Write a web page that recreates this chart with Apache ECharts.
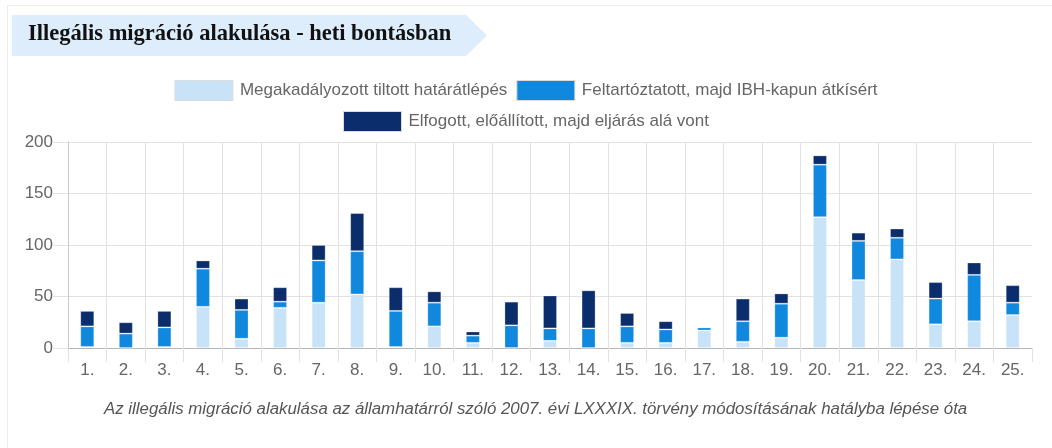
<!DOCTYPE html>
<html>
<head>
<meta charset="utf-8">
<script src="https://cdn.jsdelivr.net/npm/echarts@6/dist/echarts.min.js"></script>
<style>
  html, body { margin: 0; padding: 0; background: #fff; }
  #chart { width: 1052px; height: 448px; }
</style>
</head>
<body>
<div id="chart"></div>
<script>
  // weekly categories
  const weeks = ['1.', '2.', '3.', '4.', '5.', '6.', '7.', '8.', '9.', '10.', '11.', '12.', '13.',
    '14.', '15.', '16.', '17.', '18.', '19.', '20.', '21.', '22.', '23.', '24.', '25.'];

  const seriesNames = [
    'Megakadályozott tiltott határátlépés',
    'Feltartóztatott, majd IBH-kapun átkísért',
    'Elfogott, előállított, majd eljárás alá vont'
  ];

  // values
  const prevented = [1, 0, 1, 40, 9, 39, 44, 52, 1, 21, 5, 0, 7, 0, 5, 5, 17, 6, 10, 127, 66, 86, 23, 26, 32];
  const escorted  = [20, 14, 19, 37, 28, 6, 41, 42, 35, 23, 7, 22, 12, 19, 16, 13, 3, 20, 33, 51, 38, 21, 25, 45, 12];
  const arrested  = [15, 11, 16, 8, 11, 14, 15, 37, 23, 11, 4, 23, 32, 37, 13, 8, 1, 22, 10, 9, 8, 9, 16, 12, 17];

  const yTicks = [0, 50, 100, 150, 200];

  const colors = ['#c8e2f8', '#0f88de', '#0c2d6b'];

  const chartDom = document.getElementById('chart');
  const myChart = echarts.init(chartDom, null, { renderer: 'canvas' });

  const legendText = { color: '#666', fontSize: 17, fontFamily: 'Liberation Sans, Arial, sans-serif', padding: [0, 0, 0, 2] };
  const legendItem = { borderColor: '#dcdcdc', borderWidth: 1 };

  function makeSeries(i, values) {
    return {
      name: seriesNames[i],
      type: 'bar',
      stack: 'total',
      barWidth: 14,
      data: values,
      itemStyle: { color: colors[i], borderColor: 'rgba(255,255,255,0.25)', borderWidth: 1 },
      emphasis: { disabled: true }
    };
  }

  const option = {
    animation: false,
    color: colors,
    textStyle: { fontFamily: 'Liberation Sans, Arial, sans-serif' },
    graphic: [
      // card border
      {
        type: 'rect',
        shape: { x: 7.5, y: 5.5, width: 1060, height: 460 },
        style: { fill: 'none', stroke: '#ececec', lineWidth: 1 },
        silent: true
      },
      // title banner with arrow
      {
        type: 'polygon',
        shape: { points: [[12, 15], [466, 15], [487, 35.5], [466, 56], [12, 56]] },
        style: { fill: '#deedfb' },
        silent: true
      },
      {
        type: 'text',
        left: 28,
        top: 23,
        style: {
          text: 'Illegális migráció alakulása - heti bontásban',
          font: 'bold 22.5px "Liberation Serif", "Times New Roman", serif',
          fill: '#111'
        },
        silent: true
      },
      // footnote
      {
        type: 'text',
        left: 104,
        top: 401,
        style: {
          text: 'Az illegális migráció alakulása az államhatárról szóló 2007. évi LXXXIX. törvény módosításának hatályba lépése óta',
          font: 'italic 16.85px "Liberation Sans", Arial, sans-serif',
          fill: '#555'
        },
        silent: true
      }
    ],
    legend: [
      {
        data: [seriesNames[0], seriesNames[1]],
        top: 75,
        left: 'center',
        itemWidth: 58,
        itemHeight: 20,
        itemGap: 9,
        icon: 'rect',
        itemStyle: legendItem,
        textStyle: legendText,
        selectedMode: false
      },
      {
        data: [seriesNames[2]],
        top: 106,
        left: 'center',
        itemWidth: 58,
        itemHeight: 20,
        icon: 'rect',
        itemStyle: legendItem,
        textStyle: legendText,
        selectedMode: false
      }
    ],
    grid: {
      left: 68,
      right: 20,
      top: 142,
      bottom: 100
    },
    xAxis: {
      type: 'category',
      data: weeks,
      boundaryGap: true,
      axisLine: { show: true, lineStyle: { color: '#b5b5b5', width: 1 } },
      axisTick: { show: true, length: 14, alignWithLabel: false, lineStyle: { color: '#e2e2e2' } },
      splitLine: { show: true, showMaxLine: false, lineStyle: { color: '#e2e2e2' } },
      axisLabel: { color: '#666', fontSize: 17, margin: 14 }
    },
    yAxis: {
      type: 'value',
      min: yTicks[0],
      max: yTicks[yTicks.length - 1],
      interval: 50,
      axisLine: { show: true, lineStyle: { color: '#c8c8c8' } },
      axisTick: { show: true, length: 15, lineStyle: { color: '#e2e2e2' } },
      splitLine: { show: true, lineStyle: { color: '#e2e2e2' } },
      axisLabel: { color: '#666', fontSize: 17, margin: 15 }
    },
    series: [
      makeSeries(0, prevented),
      makeSeries(1, escorted),
      makeSeries(2, arrested)
    ]
  };

  myChart.setOption(option);
</script>
</body>
</html>
